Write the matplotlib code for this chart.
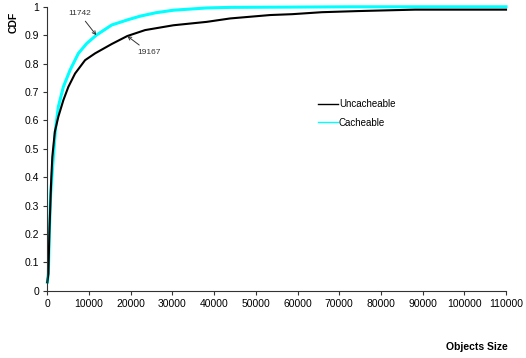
import matplotlib
matplotlib.use("Agg")
import matplotlib.pyplot as plt

plt.rcParams['font.family'] = ['Liberation Sans', 'DejaVu Sans']

# Uncacheable objects: size vs CDF
uncache_size = [0, 250, 480, 900, 1200, 1800, 2640, 3840, 5040, 6650, 9050, 11450, 15450,
                19167, 23450, 30250, 38250, 43850, 53450, 58700, 65850, 74600, 88200, 110000]
uncache_cdf = [0.03, 0.06, 0.20, 0.38, 0.472, 0.56, 0.613, 0.671, 0.718, 0.765, 0.812, 0.836, 0.869,
               0.897, 0.918, 0.935, 0.947, 0.959, 0.971, 0.974, 0.981, 0.985, 0.99, 0.99]

# Cacheable objects
cache_size = [0, 250, 480, 800, 1450, 2000, 2640, 3840, 5450, 7450, 9450, 11742,
              15450, 19450, 22250, 26000, 30250, 38250, 44000, 73000, 110000]
cache_cdf = [0.03, 0.06, 0.20, 0.34, 0.472, 0.575, 0.648, 0.718, 0.777, 0.836, 0.871, 0.90,
             0.936, 0.955, 0.967, 0.979, 0.988, 0.996, 0.998, 1.0, 1.0]

xticks = list(range(0, 110001, 10000))
yticks = [i / 10 for i in range(11)]
ytick_labels = ["0"] + ["%.1f" % v for v in yticks[1:-1]] + ["1"]

fig = plt.figure(figsize=(5.26, 3.58), dpi=100)
ax = fig.add_axes([0.09, 0.188, 0.872, 0.793])

ax.plot(cache_size, cache_cdf, color="#00ffff", lw=2.2, label="Cacheable", clip_on=False)
ax.plot(uncache_size, uncache_cdf, color="black", lw=1.5, label="Uncacheable", clip_on=False)

ax.set_xlim(0, 110000)
ax.set_ylim(0, 1)
ax.set_xticks(xticks)
ax.set_xticklabels([str(v) for v in xticks])
ax.set_yticks(yticks)
ax.set_yticklabels(ytick_labels)
ax.tick_params(direction="out", length=3, width=0.8, labelsize=7.5, pad=3, color="#333333")
for s in ["top", "right"]:
    ax.spines[s].set_visible(False)
for s in ["left", "bottom"]:
    ax.spines[s].set_color("#333333")
    ax.spines[s].set_linewidth(0.8)

# legend, order like the original (Uncacheable first)
h, l = ax.get_legend_handles_labels()
leg = ax.legend(h[::-1], l[::-1], loc="upper left", bbox_to_anchor=(0.572, 0.705), frameon=False,
                fontsize=7, handlelength=2.0, handletextpad=0.1, labelspacing=0.85)
for ln in leg.get_lines():
    ln.set_linewidth(1.0)

# annotations
ax.annotate("11742", xy=(11742, 0.90), xytext=(5000, 0.97), fontsize=6, color="#333333",
            arrowprops=dict(arrowstyle="->", color="#333333", lw=0.7, shrinkA=1, shrinkB=0))
ax.annotate("19167", xy=(19167, 0.897), xytext=(21500, 0.835), fontsize=6, color="#333333",
            arrowprops=dict(arrowstyle="->", color="#333333", lw=0.7, shrinkA=1, shrinkB=0))

fig.text(14 / 526, 1 - 22 / 358, "CDF", rotation=90, fontsize=7.5, fontweight="bold",
         ha="center", va="center")
fig.text(477 / 526, 1 - 347 / 358, "Objects Size", fontsize=7.5, fontweight="bold",
         ha="center", va="center")

fig.savefig("out.png", dpi=100)
